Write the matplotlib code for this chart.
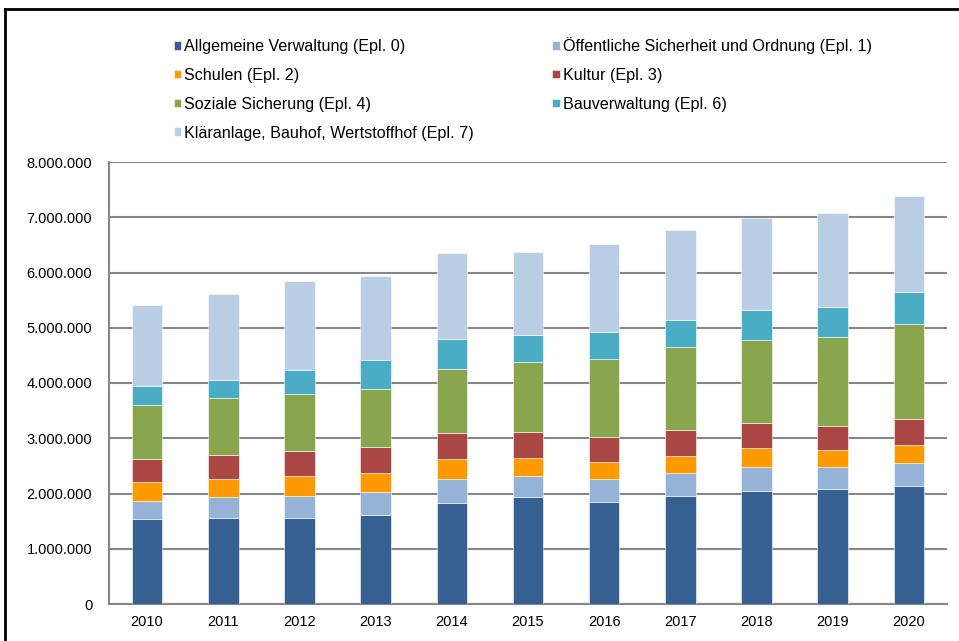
import numpy as np
import matplotlib.pyplot as plt
from matplotlib.ticker import FuncFormatter

plt.rcParams['font.family'] = ['Liberation Sans', 'DejaVu Sans']

jahre = ["2010", "2011", "2012", "2013", "2014", "2015", "2016", "2017", "2018", "2019", "2020"]

# Werte in Euro
allgemeine_verwaltung = [1533000, 1563000, 1563000, 1617000, 1828000, 1937000, 1846000, 1955000, 2040000, 2076000, 2136000]
sicherheit_ordnung = [331000, 368000, 392000, 404000, 440000, 386000, 422000, 422000, 446000, 398000, 416000]
schulen = [350000, 337000, 368000, 356000, 356000, 320000, 302000, 302000, 338000, 313000, 326000]
kultur = [410000, 429000, 440000, 465000, 465000, 476000, 447000, 464000, 458000, 441000, 476000]
soziale_sicherung = [972000, 1025000, 1044000, 1055000, 1164000, 1261000, 1417000, 1503000, 1502000, 1610000, 1719000]
bauverwaltung = [355000, 332000, 428000, 519000, 549000, 489000, 489000, 494000, 537000, 532000, 580000]
klaeranlage = [1455000, 1563000, 1611000, 1521000, 1557000, 1508000, 1593000, 1629000, 1671000, 1713000, 1737000]

reihen = [
    ("Allgemeine Verwaltung (Epl. 0)", allgemeine_verwaltung, "#376092"),
    ("Öffentliche Sicherheit und Ordnung (Epl. 1)", sicherheit_ordnung, "#95B3D7"),
    ("Schulen (Epl. 2)", schulen, "#FF9900"),
    ("Kultur (Epl. 3)", kultur, "#AA4643"),
    ("Soziale Sicherung (Epl. 4)", soziale_sicherung, "#89A54E"),
    ("Bauverwaltung (Epl. 6)", bauverwaltung, "#4BACC6"),
    ("Kläranlage, Bauhof, Wertstoffhof (Epl. 7)", klaeranlage, "#B9CDE5"),
]

fig = plt.figure(figsize=(9.59, 6.41), dpi=100)
ax = fig.add_axes([109 / 959, 1 - 604 / 641, 838 / 959, 442 / 641])

x = np.arange(len(jahre))
unten = np.zeros(len(jahre))
handles = []
for name, werte, farbe in reihen:
    b = ax.bar(x, werte, width=0.4, bottom=unten, color=farbe, label=name,
               edgecolor="white", linewidth=0.4, zorder=3)
    handles.append(b)
    unten = unten + np.array(werte)

ax.set_xlim(-0.5, 10.5)
ax.set_ylim(0, 8000000)
ax.set_yticks(np.arange(0, 8000001, 1000000))
ax.yaxis.set_major_formatter(FuncFormatter(lambda v, p: f"{int(v):,}".replace(",", ".")))
ax.set_xticks(x)
ax.set_xticklabels(jahre)
ax.tick_params(axis="both", length=0, labelsize=10.5, colors="black")
ax.tick_params(axis="y", pad=12)
ax.tick_params(axis="x", pad=8)
ax.grid(axis="y", color="#868686", linewidth=1.5, zorder=0)
ax.set_axisbelow(True)
for s in ["top", "right"]:
    ax.spines[s].set_visible(False)
for s in ["left", "bottom"]:
    ax.spines[s].set_color("#868686")
    ax.spines[s].set_linewidth(1.5)

# Legende zeilenweise wie im Original
reihenfolge = [0, 2, 4, 6, 1, 3, 5]
fig.legend([handles[i] for i in reihenfolge], [reihen[i][0] for i in reihenfolge],
           ncol=2, loc="upper left", bbox_to_anchor=(174 / 959, 1 - 37 / 641),
           frameon=False, fontsize=11.6, handlelength=0.45, handleheight=0.45,
           handletextpad=0.2, columnspacing=4.85, labelspacing=0.86,
           borderpad=0, borderaxespad=0)

# schwarzer Rahmen oben und links
fig.add_artist(plt.Line2D([5 / 959, 1], [1 - 9 / 641, 1 - 9 / 641], color="black", linewidth=2))
fig.add_artist(plt.Line2D([5 / 959, 5 / 959], [0, 1 - 9 / 641], color="black", linewidth=2))

fig.savefig("out.png", dpi=100)
